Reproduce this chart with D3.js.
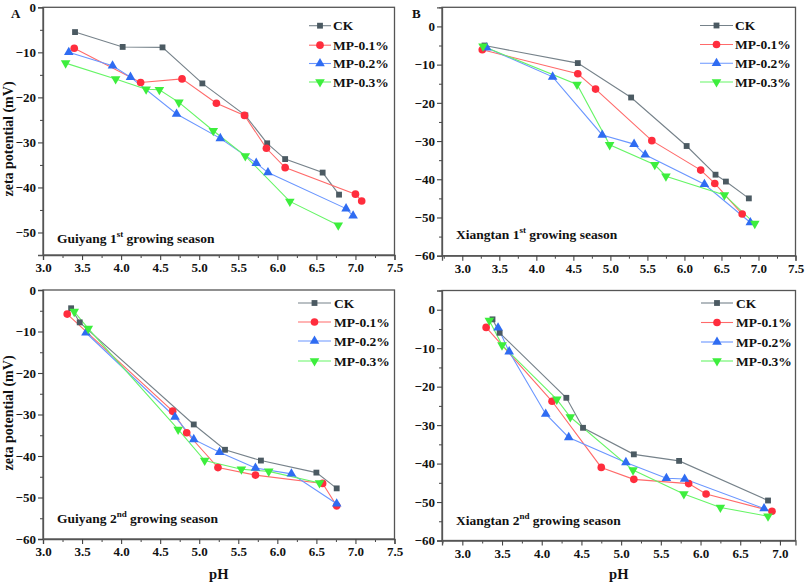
<!DOCTYPE html>
<html><head><meta charset="utf-8">
<script src="https://cdn.jsdelivr.net/npm/d3@7"></script>
<style>
html,body{margin:0;padding:0;background:#fff;}
svg text{font-family:"Liberation Serif","Times New Roman",serif;font-weight:bold;fill:#111;}
</style></head>
<body><svg id="c" width="805" height="586"></svg>
<script>
// ---- data: [pH, zeta potential (mV)] ----
const seriesNames = ["CK", "MP-0.1%", "MP-0.2%", "MP-0.3%"];
const panelTitles = ["Guiyang 1", "Xiangtan 1", "Guiyang 2", "Xiangtan 2"];
const panelSup = ["st", "st", "nd", "nd"];
const panelLetters = ["A", "B", "", ""];

const A_CK   = [[3.41,-5.5],[4.02,-8.8],[4.53,-8.9],[5.04,-16.9],[5.59,-24.0],[5.87,-30.2],[6.10,-33.7],[6.58,-36.7],[6.79,-41.6]];
const A_MP01 = [[3.40,-9.1],[4.25,-16.7],[4.78,-15.9],[5.22,-21.3],[5.58,-24.0],[5.86,-31.3],[6.10,-35.6],[7.00,-41.5],[7.08,-43.0]];
const A_MP02 = [[3.33,-10.0],[3.89,-13.0],[4.12,-15.5],[4.71,-23.7],[5.27,-29.1],[5.73,-34.6],[5.88,-36.7],[6.88,-44.7],[6.97,-46.3]];
const A_MP03 = [[3.29,-12.4],[3.93,-15.9],[4.32,-18.2],[4.49,-18.3],[4.74,-21.1],[5.18,-27.4],[5.59,-33.0],[6.16,-43.1],[6.78,-48.4]];

const B_CK   = [[3.30,-5.0],[4.56,-9.6],[5.28,-18.6],[6.03,-31.3],[6.42,-38.8],[6.56,-40.6],[6.87,-45.0]];
const B_MP01 = [[3.27,-6.1],[4.56,-12.4],[4.80,-16.4],[5.56,-29.9],[6.22,-37.6],[6.41,-41.1],[6.78,-49.1]];
const B_MP02 = [[3.33,-5.6],[4.22,-13.2],[4.89,-28.4],[5.32,-30.8],[5.47,-33.6],[6.27,-41.3],[6.89,-51.3]];
const B_MP03 = [[3.28,-5.2],[4.55,-15.2],[4.99,-31.0],[5.60,-36.2],[5.75,-39.2],[6.54,-44.1],[6.95,-51.6]];

const C_CK   = [[3.36,-4.4],[3.47,-7.8],[4.93,-32.4],[5.33,-38.5],[5.79,-41.1],[6.50,-44.0],[6.76,-47.8]];
const C_MP01 = [[3.31,-5.8],[4.66,-29.2],[4.84,-34.4],[5.24,-42.8],[5.72,-44.6],[6.58,-46.6],[6.76,-52.0]];
const C_MP02 = [[3.55,-10.3],[4.69,-30.6],[4.93,-36.0],[5.26,-39.1],[5.72,-42.9],[6.18,-44.3],[6.76,-51.5]];
const C_MP03 = [[3.40,-5.2],[3.58,-9.3],[4.73,-33.6],[5.07,-41.1],[5.54,-43.2],[5.89,-43.7],[6.54,-46.5]];

const D_CK   = [[3.38,-2.5],[3.47,-6.0],[4.31,-22.9],[4.52,-30.7],[5.16,-37.6],[5.73,-39.3],[6.85,-49.6]];
const D_MP01 = [[3.30,-4.6],[4.13,-23.8],[4.75,-41.0],[5.16,-44.1],[5.85,-45.2],[6.07,-47.9],[6.90,-52.4]];
const D_MP02 = [[3.45,-4.7],[3.59,-10.9],[4.05,-27.1],[4.34,-33.2],[5.06,-39.7],[5.57,-43.8],[5.80,-44.0],[6.80,-51.7]];
const D_MP03 = [[3.34,-2.8],[3.50,-9.2],[4.19,-23.3],[4.36,-27.9],[5.15,-41.7],[5.79,-47.9],[6.25,-51.4],[6.85,-53.7]];

const xTicksFull = [3.0,3.5,4.0,4.5,5.0,5.5,6.0,6.5,7.0,7.5];
const yTicksA = [0,-10,-20,-30,-40,-50];
const yTicksFull = [0,-10,-20,-30,-40,-50,-60];

// ---- styles ----
const lineColors = ["#76828a", "#ff6a6a", "#6a96ff", "#66f566"];
const markColors = ["#4b5a62", "#ff2d3d", "#2f6cf2", "#3dee3d"];
const markTypes = [d3.symbolSquare, d3.symbolCircle, d3.symbolTriangle, d3.symbolTriangle];
const markSizes = [34, 46, 40, 40];
const markRot = [0, 0, 0, 180];

const panels = [
  {data:[A_CK,A_MP01,A_MP02,A_MP03], L:43, R:394.5, T:7.3, B:255, xd:[3,7.5], yd:[0,-55], yt:yTicksA, xt:xTicksFull,
   leg:{x1:309,x2:331,tx:333,ys:[25.7,45.2,63.5,82]}, title:{x:57,y:243}, yTitle:139},
  {data:[B_CK,B_MP01,B_MP02,B_MP03], L:442, R:795.5, T:7.3, B:255.7, xd:[2.726,7.5], yd:[5,-60], yt:yTicksFull, xt:xTicksFull,
   leg:{x1:700,x2:733,tx:735,ys:[25.5,44.5,63.3,82]}, title:{x:456,y:239}, yTitle:0},
  {data:[C_CK,C_MP01,C_MP02,C_MP03], L:43, R:394.5, T:290, B:539, xd:[3,7.5], yd:[0,-60], yt:yTicksFull, xt:xTicksFull,
   leg:{x1:298,x2:331,tx:334,ys:[303,322,341,361]}, title:{x:57,y:523}, yTitle:413, xTitle:true},
  {data:[D_CK,D_MP01,D_MP02,D_MP03], L:442, R:795.5, T:290.5, B:540.5, xd:[2.744,7.196], yd:[5,-60], yt:yTicksFull, xt:xTicksFull.filter(v=>v<=7.0),
   leg:{x1:701,x2:733,tx:736,ys:[303,322.5,342,361]}, title:{x:456,y:525}, yTitle:0, xTitle:true}
];

const svg = d3.select("#c");
const axisColor = "#444";

function sym(i){ return d3.symbol().type(markTypes[i]).size(markSizes[i])(); }

panels.forEach((p, pi) => {
  const x = d3.scaleLinear().domain(p.xd).range([p.L, p.R]);
  const y = d3.scaleLinear().domain(p.yd).range([p.T, p.B]);
  const g = svg.append("g");

  // frame
  g.append("rect").attr("x", p.L).attr("y", p.T).attr("width", p.R - p.L).attr("height", p.B - p.T)
    .attr("fill", "none").attr("stroke", "#555").attr("stroke-width", 1.3);

  // minor ticks
  const xMinor = d3.range(Math.ceil(p.xd[0]*4)/4, p.xd[1]+0.001, 0.25).filter(v => Math.abs(v*2 - Math.round(v*2)) > 0.01);
  const yMinor = d3.range(-55, Math.max(p.yd[0], 0) + 0.1, 10).filter(v => v >= p.yd[1] && v <= p.yd[0]);
  const xm = g.append("g").attr("transform", `translate(0,${p.B})`)
    .call(d3.axisBottom(x).tickValues(xMinor).tickSize(3).tickFormat(""));
  const ym = g.append("g").attr("transform", `translate(${p.L},0)`)
    .call(d3.axisLeft(y).tickValues(yMinor).tickSize(3).tickFormat(""));
  [xm, ym].forEach(a => { a.select(".domain").remove(); a.selectAll("line").attr("stroke", axisColor).attr("stroke-width", 1); });

  // major axes
  const xa = g.append("g").attr("transform", `translate(0,${p.B})`)
    .call(d3.axisBottom(x).tickValues(p.xt).tickSize(5).tickPadding(3).tickFormat(d3.format(".1f")));
  const ya = g.append("g").attr("transform", `translate(${p.L},0)`)
    .call(d3.axisLeft(y).tickValues(p.yt).tickSize(5).tickPadding(2).tickFormat(d => d3.format("d")(d)));
  [xa, ya].forEach(a => {
    a.select(".domain").attr("stroke", "#555").attr("stroke-width", 1.3);
    a.selectAll("line").attr("stroke", axisColor).attr("stroke-width", 1.1);
    a.selectAll("text").attr("font-size", 13).attr("fill", "#111")
      .style("font-family", '"Liberation Serif",serif').style("font-weight", "bold");
  });

  // series
  const line = d3.line().x(d => x(d[0])).y(d => y(d[1]));
  p.data.forEach((s, i) => {
    g.append("path").datum(s).attr("d", line).attr("fill", "none")
      .attr("stroke", lineColors[i]).attr("stroke-width", 1.1);
  });
  p.data.forEach((s, i) => {
    g.selectAll(null).data(s).enter().append("path")
      .attr("d", sym(i))
      .attr("transform", d => `translate(${x(d[0])},${y(d[1])}) rotate(${markRot[i]})`)
      .attr("fill", markColors[i]);
  });

  // legend
  seriesNames.forEach((n, i) => {
    const ly = p.leg.ys[i];
    g.append("line").attr("x1", p.leg.x1).attr("x2", p.leg.x2).attr("y1", ly).attr("y2", ly)
      .attr("stroke", lineColors[i]).attr("stroke-width", 1.1);
    g.append("path").attr("d", sym(i))
      .attr("transform", `translate(${(p.leg.x1 + p.leg.x2)/2},${ly}) rotate(${markRot[i]})`)
      .attr("fill", markColors[i]);
    g.append("text").attr("x", p.leg.tx).attr("y", ly).attr("dy", "0.35em")
      .attr("font-size", 13.5).text(n);
  });

  // season title
  const t = g.append("text").attr("x", p.title.x).attr("y", p.title.y).attr("font-size", 13.5);
  t.append("tspan").text(panelTitles[pi]);
  t.append("tspan").attr("font-size", 9).attr("dy", -6).text(panelSup[pi]);
  t.append("tspan").attr("dy", 6).text(" growing season");

  // panel letter
  if (panelLetters[pi]) {
    svg.append("text").attr("x", pi === 0 ? 11 : 412).attr("y", 18).attr("font-size", 13).text(panelLetters[pi]);
  }

  // y title
  if (p.yTitle) {
    svg.append("text").attr("transform", `translate(13,${p.yTitle}) rotate(-90)`)
      .attr("text-anchor", "middle").attr("font-size", 14).text("zeta potential (mV)");
  }
  if (p.xTitle) {
    svg.append("text").attr("x", (p.L + p.R) / 2).attr("y", 579)
      .attr("text-anchor", "middle").attr("font-size", 14.5).text("pH");
  }
});
</script></body></html>
